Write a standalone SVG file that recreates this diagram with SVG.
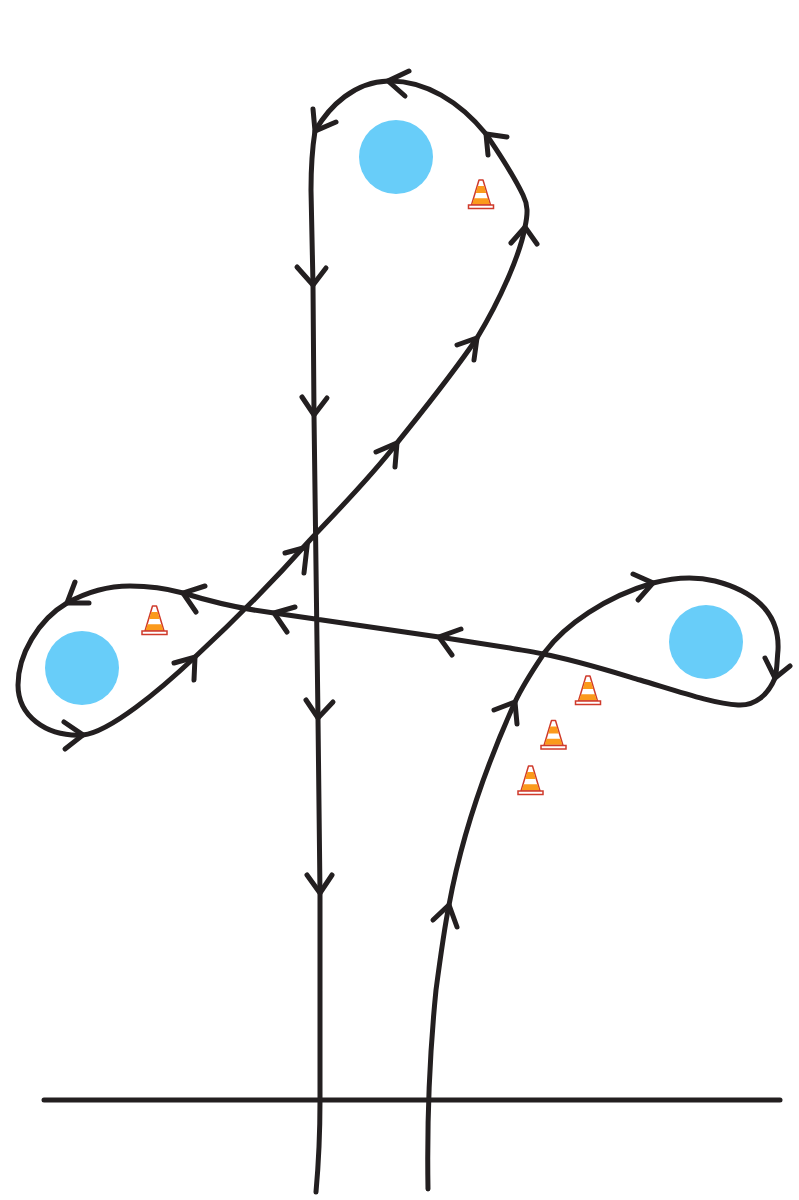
<svg xmlns="http://www.w3.org/2000/svg" width="799" height="1200" viewBox="0 0 799 1200">
<style>
.line{fill:none;stroke:#231f20;stroke-width:5;stroke-linecap:round;stroke-linejoin:round}
.head{fill:none;stroke:#231f20;stroke-width:5;stroke-linecap:round;stroke-linejoin:miter}
.pool{fill:#68cdf9}
</style>
<defs>
<g id="cone">
<polygon points="-9.5,-4 -2,-29 2,-29 9.5,-4" fill="#fff" stroke="#cf3a2b" stroke-width="1.5" stroke-linejoin="round"/>
<polygon points="-3.2,-23 3.2,-23 5.3,-16 -5.3,-16" fill="#fb9a1c"/>
<polygon points="-6.9,-10.700 6.900,-10.700 8.900,-4.700 -8.900,-4.700" fill="#fb9a1c"/>
<rect x="-12.500" y="-4" width="25" height="3.500" fill="#fff" stroke="#cf3a2b" stroke-width="1.500"/>
</g>
</defs>
<rect width="799" height="1200" fill="#fff"/>
<g id="connectors">
<path id="baseline" class="line" stroke-linecap="butt" d="M44 1100H780"/>
<path id="route" class="line" d="M428 1189C427 1130 429 1060 436 990C440 960 444 930 449 905C460 845 482 775 515 702C524 683 533 670 545 652C565 625 605 597 653 583C672 578 695 576 715 581C750 590 780 610 778 650C777 660 777 672 775 678C768 695 755 706 738 705C715 704 680 692 640 680C610 671 575 660 543 654C530 651 520 650 510 648L439 637L274 613C250 610 215 603 183 593C165 588 150 586 130 586C105 586 85 593 67 603C38 620 18 655 18 685C18 715 45 737 83 735C110 732 160 690 195 657C235 620 270 585 310 540C340 508 370 478 397 443C425 408 452 375 477 338C500 300 520 255 525 227C528 213 528 205 523 195C512 172 498 152 486 134C460 102 425 80 388 81C355 82 330 105 315 131C312 150 311 170 311 190L313 285L314 415L318 718L320 893L320 1100C320 1140 318 1170 316 1192"/>
<g id="arrowheads">
<path class="head" d="M409 71L388 81L405 96"/>
<path class="head" d="M313 109L315 131L336 122"/>
<path class="head" d="M507 137L486 134L488 155"/>
<path class="head" d="M511 243L525 227L537 244"/>
<path class="head" d="M457 345L477 338L474 360"/>
<path class="head" d="M376 452L397 443L395 467"/>
<path class="head" d="M285 553L307 547L304 573"/>
<path class="head" d="M174 663L195 657L194 680"/>
<path class="head" d="M64 722L83 735L65 749"/>
<path class="head" d="M75 582L67 603L89 603"/>
<path class="head" d="M205 586L183 593L196 612"/>
<path class="head" d="M295 607L274 613L287 632"/>
<path class="head" d="M461 629L439 637L452 655"/>
<path class="head" d="M633 574L653 583L638 600"/>
<path class="head" d="M765 658L775 678L790 666"/>
<path class="head" d="M494 710L515 702L517 724"/>
<path class="head" d="M433 920L449 905L457 927"/>
<path class="head" d="M297 267L313 285L326 268"/>
<path class="head" d="M302 397L314 415L327 398"/>
<path class="head" d="M306 700L318 718L333 702"/>
<path class="head" d="M307 875L320 893L332 875"/>
</g>
</g>
<g id="pool-top"><circle class="pool" cx="396" cy="157" r="37"/></g>
<g id="pool-left"><circle class="pool" cx="82" cy="668" r="37"/></g>
<g id="pool-right"><circle class="pool" cx="706" cy="642" r="37"/></g>
<g id="cone-1"><use href="#cone" x="481" y="209"/></g>
<g id="cone-2"><use href="#cone" x="154.500" y="635"/></g>
<g id="cone-3"><use href="#cone" x="588" y="705"/></g>
<g id="cone-4"><use href="#cone" x="553.500" y="749.500"/></g>
<g id="cone-5"><use href="#cone" x="530.500" y="795"/></g>
</svg>
